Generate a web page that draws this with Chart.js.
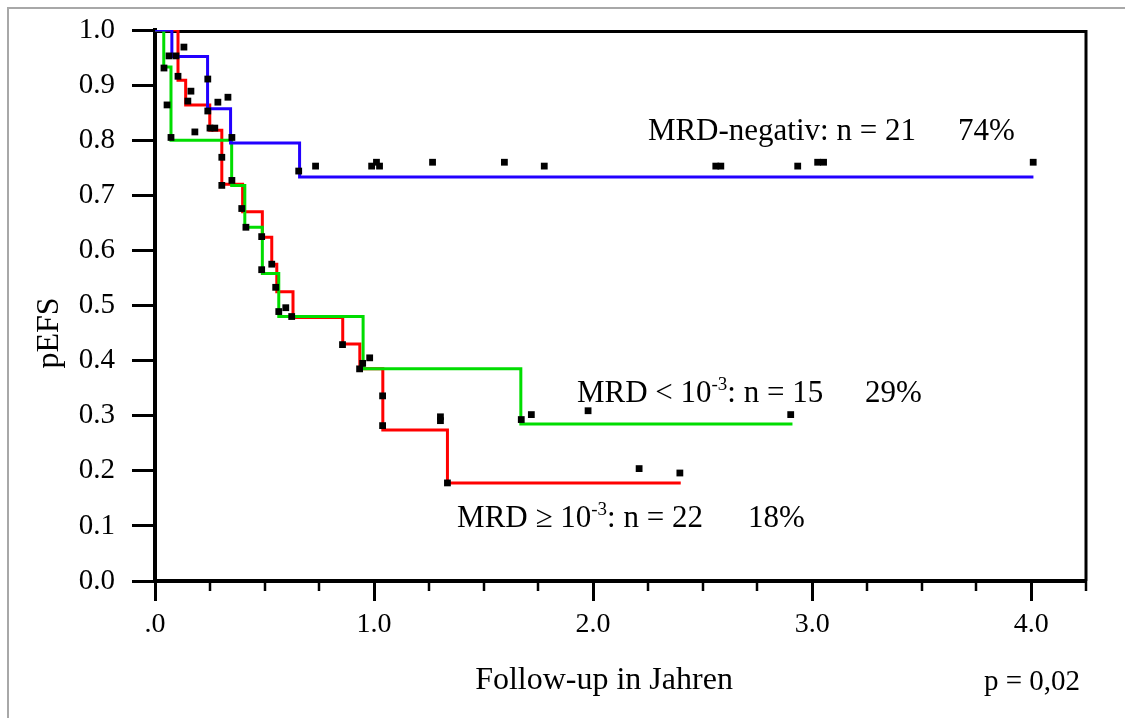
<!DOCTYPE html>
<html>
<head>
<meta charset="utf-8">
<script src="https://cdn.jsdelivr.net/npm/chart.js@4"></script>
<style>
  html, body { margin: 0; padding: 0; background: #fff; }
  #wrap { position: relative; width: 1125px; height: 718px; overflow: hidden; }
  #frame { position: absolute; left: 7px; top: 7px; width: 1130px; height: 720px; border-left: 2px solid #a8a8a8; border-top: 2px solid #a8a8a8; }
  canvas { position: absolute; left: 0; top: 0; }
</style>
</head>
<body>
<div id="wrap"><div id="frame"></div><canvas id="myChart" width="1125" height="718"></canvas></div>
<script>
// step points of the three curves (time in years, pEFS)
const negTimes = [0, 0.077, 0.24, 0.345, 0.66, 4.01];
const negSurv = [1.0, 0.952, 0.857, 0.795, 0.733, 0.733];

const lowTimes = [0, 0.04, 0.073, 0.35, 0.41, 0.49, 0.565, 0.95, 1.67, 2.91];
const lowSurv = [1.0, 0.933, 0.8, 0.718, 0.642, 0.558, 0.48, 0.385, 0.285, 0.285];

const highTimes = [0, 0.105, 0.14, 0.25, 0.305, 0.40, 0.49, 0.533, 0.556, 0.63, 0.857, 0.935, 1.04, 1.335, 2.40];
const highSurv = [1.0, 0.909, 0.864, 0.818, 0.72, 0.67, 0.624, 0.575, 0.525, 0.478, 0.43, 0.385, 0.274, 0.178, 0.178];

// censored cases (black squares)
const censorTimes = [0.041, 0.055, 0.073, 0.064, 0.096, 0.132, 0.105, 0.164, 0.150, 0.241, 0.287, 0.333,
    0.182, 0.251, 0.273, 0.241, 0.351, 0.305, 0.305, 0.351, 0.396, 0.415, 0.487, 0.656, 0.533, 0.487,
    0.551, 0.565, 0.597, 0.624, 0.856, 0.948, 0.934, 0.980, 1.039, 1.039, 1.303, 1.303, 1.335, 1.672,
    1.718, 1.977, 2.902, 2.210, 2.396, 0.733, 0.989, 1.011, 1.025, 1.267, 1.595, 1.777, 2.56, 2.583,
    2.934, 3.025, 3.052, 4.009];
const censorSurv = [0.931, 0.864, 0.805, 0.953, 0.953, 0.969, 0.916, 0.889, 0.871, 0.911, 0.869, 0.878,
    0.815, 0.822, 0.822, 0.853, 0.805, 0.769, 0.718, 0.727, 0.676, 0.642, 0.625, 0.744, 0.575, 0.565,
    0.533, 0.489, 0.496, 0.48, 0.429, 0.395, 0.385, 0.405, 0.336, 0.282, 0.298, 0.291, 0.178, 0.293,
    0.302, 0.309, 0.302, 0.204, 0.196, 0.753, 0.753, 0.76, 0.753, 0.76, 0.76, 0.753, 0.753, 0.753,
    0.753, 0.76, 0.76, 0.76];

const xTickLabels = ['.0', '1.0', '2.0', '3.0', '4.0'];

const groupLabels = [
    [{ text: 'MRD-negativ: n = 21' }],
    [{ text: 'MRD < 10' }, { text: '-3', sup: true }, { text: ': n = 15' }],
    [{ text: 'MRD \u2265 10' }, { text: '-3', sup: true }, { text: ': n = 22' }]
];
const groupPercents = ['74%', '29%', '18%'];

const toPoints = (xs, ys) => xs.map((x, i) => ({ x: x, y: ys[i] }));

const serif = '"Liberation Serif", "Times New Roman", serif';

// where the group labels sit, in data units (left x, baseline y, x of percent)
const labelPlaces = [
    { t: 2.25, s: 0.80, pct: 3.666 },
    { t: 1.926, s: 0.325, pct: 3.241 },
    { t: 1.379, s: 0.098, pct: 2.707 }
];

const drawRich = (ctx, parts, x, y, size) => {
    parts.forEach(p => {
        if (p.sup) {
            ctx.font = Math.round(size * 0.62) + 'px ' + serif;
            ctx.fillText(p.text, x, y - size * 0.4);
        } else {
            ctx.font = size + 'px ' + serif;
            ctx.fillText(p.text, x, y);
        }
        x += ctx.measureText(p.text).width;
    });
};

const extras = {
    id: 'extras',
    beforeDatasetsDraw(chart) {
        const { ctx, chartArea } = chart;
        ctx.save();
        ctx.strokeStyle = '#000';
        ctx.lineWidth = 3;
        ctx.beginPath();
        ctx.moveTo(chartArea.left, chartArea.top + 1.5);
        ctx.lineTo(chartArea.right, chartArea.top + 1.5);
        ctx.lineTo(chartArea.right, chartArea.bottom);
        ctx.stroke();
        // minor ticks on the x axis
        const xs = chart.scales.x;
        ctx.lineWidth = 2.5;
        xs.ticks.forEach((tk, i) => {
            if (i % 4 === 0) return;
            const px = Math.round(xs.getPixelForValue(tk.value));
            ctx.beginPath();
            ctx.moveTo(px, chartArea.bottom);
            ctx.lineTo(px, chartArea.bottom + 10);
            ctx.stroke();
        });
        ctx.restore();
    },
    afterDraw(chart) {
        const { ctx } = chart;
        const xs = chart.scales.x, ys = chart.scales.y;
        ctx.save();
        ctx.fillStyle = '#000';
        ctx.textBaseline = 'alphabetic';
        ctx.textAlign = 'left';
        groupLabels.forEach((parts, i) => {
            const pl = labelPlaces[i];
            const y = ys.getPixelForValue(pl.s);
            drawRich(ctx, parts, xs.getPixelForValue(pl.t), y, 31);
            ctx.font = '31px ' + serif;
            ctx.fillText(groupPercents[i], xs.getPixelForValue(pl.pct), y);
        });
        // axis titles
        ctx.font = '32px ' + serif;
        ctx.textAlign = 'center';
        ctx.fillText('Follow-up in Jahren', 604, 689);
        ctx.save();
        ctx.translate(50, 333);
        ctx.rotate(-Math.PI / 2);
        ctx.textBaseline = 'middle';
        ctx.fillText('pEFS', 0, 0);
        ctx.restore();
        ctx.font = '29px ' + serif;
        ctx.textAlign = 'right';
        ctx.fillText('p = 0,02', 1080, 690);
        ctx.restore();
    }
};

const stepStyle = color => ({
    showLine: true,
    stepped: true,
    borderColor: color,
    backgroundColor: color,
    borderWidth: 3,
    pointRadius: 0,
    fill: false
});

const ctx = document.getElementById('myChart').getContext('2d');
new Chart(ctx, {
    type: 'scatter',
    data: {
        datasets: [
            {
                label: 'zensiert',
                data: toPoints(censorTimes, censorSurv),
                pointStyle: 'rect',
                pointRadius: 4.8,
                backgroundColor: '#000',
                borderWidth: 0,
                order: 0
            },
            Object.assign({ label: 'MRD-negativ', data: toPoints(negTimes, negSurv), order: 1 }, stepStyle('#2200ff')),
            Object.assign({ label: 'MRD < 10-3', data: toPoints(lowTimes, lowSurv), order: 2 }, stepStyle('#00dd00')),
            Object.assign({ label: 'MRD >= 10-3', data: toPoints(highTimes, highSurv), order: 3 }, stepStyle('#ff0000'))
        ]
    },
    options: {
        responsive: false,
        animation: false,
        layout: { padding: { top: 30, right: 39, left: 0, bottom: 0 } },
        plugins: { legend: { display: false }, tooltip: { enabled: false } },
        scales: {
            x: {
                type: 'linear',
                min: 0,
                max: 4.25,
                ticks: {
                    stepSize: 0.25,
                    autoSkip: false,
                    maxRotation: 0,
                    padding: 7,
                    color: '#000',
                    font: { family: serif, size: 28 },
                    callback: (v, i) => (i % 4 === 0 ? (xTickLabels[i / 4] || '') : '')
                },
                grid: {
                    drawOnChartArea: false,
                    tickLength: 20,
                    tickWidth: 3,
                    tickColor: c => (c.index % 4 === 0 ? '#000' : 'rgba(0,0,0,0)')
                },
                border: { color: '#000', width: 4 },
                afterFit: s => { s.height = 137; }
            },
            y: {
                min: 0,
                max: 1,
                ticks: {
                    stepSize: 0.1,
                    padding: 17,
                    color: '#000',
                    font: { family: serif, size: 29 },
                    callback: v => v.toFixed(1)
                },
                grid: {
                    drawOnChartArea: false,
                    tickLength: 23,
                    tickWidth: 3,
                    tickColor: '#000'
                },
                border: { color: '#000', width: 4 },
                afterFit: s => {
                    s.width = 155;
                    s.paddingTop = 0;
                    s.paddingBottom = 0;
                }
            }
        }
    },
    plugins: [extras]
});
</script>
</body>
</html>
